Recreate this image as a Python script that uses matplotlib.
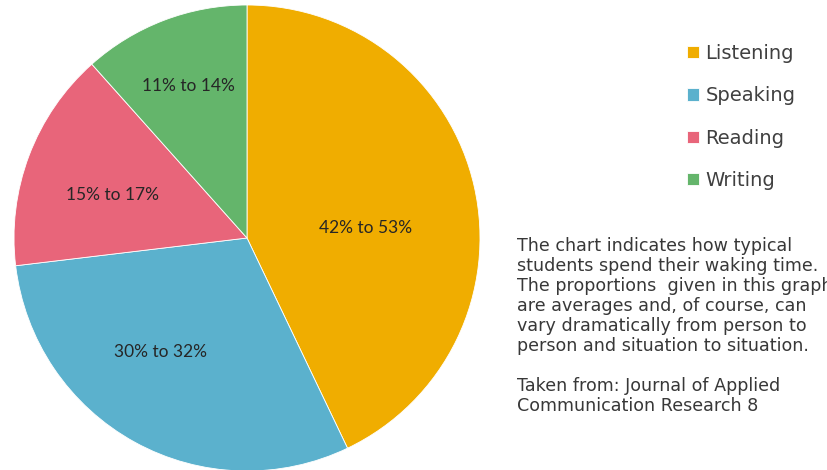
import matplotlib
matplotlib.use("Agg")
import matplotlib.pyplot as plt

categories = ["Listening", "Speaking", "Reading", "Writing"]
values = [42.9, 30.2, 15.3, 11.6]
range_labels = ["42% to 53%", "30% to 32%", "15% to 17%", "11% to 14%"]
colors = ["#F0AD00", "#5BB1CD", "#E8657A", "#64B56B"]

note_lines = [
    "The chart indicates how typical",
    "students spend their waking time.",
    "The proportions  given in this graph",
    "are averages and, of course, can",
    "vary dramatically from person to",
    "person and situation to situation.",
    "",
    "Taken from: Journal of Applied",
    "Communication Research 8",
]

plt.rcParams['font.family'] = ['Lato', 'DejaVu Sans']

W, H = 827, 470
fig = plt.figure(figsize=(W / 100, H / 100), dpi=100)
fig.patch.set_facecolor("white")

cx, cy, r = 247, 238, 233
ax = fig.add_axes([(cx - r) / W, (H - cy - r) / H, 2 * r / W, 2 * r / H])
wedges, _ = ax.pie(values, colors=colors, startangle=90, counterclock=False,
                   wedgeprops=dict(linewidth=0.6, edgecolor="white"))
ax.set_xlim(-1, 1)
ax.set_ylim(-1, 1)
ax.set_aspect("equal")
ax.axis("off")

# label positions (pixel coords in the figure)
label_pos = [(366, 228), (160, 352), (112, 195), (188, 86)]
for txt, (px, py) in zip(range_labels, label_pos):
    fig.text(px / W, 1 - py / H, txt, ha="center", va="center",
             fontsize=12.5, color="#262626", family="Lato")

leg = ax.legend(wedges, categories, loc="upper left",
                bbox_to_anchor=(687 / W, 1 - 44 / H), bbox_transform=fig.transFigure,
                frameon=False, handlelength=0.6, handleheight=0.6,
                handletextpad=0.35, labelspacing=1.2, borderpad=0, borderaxespad=0,
                prop=dict(family="DejaVu Sans", size=14))
for t in leg.get_texts():
    t.set_color("#404040")

y0 = 246
for i, line in enumerate(note_lines):
    if line:
        fig.text(517 / W, 1 - (y0 + i * 20) / H, line, ha="left", va="center",
                 fontsize=12.6, color="#383838", family="DejaVu Sans")

fig.savefig("out.png", dpi=100, facecolor="white")
